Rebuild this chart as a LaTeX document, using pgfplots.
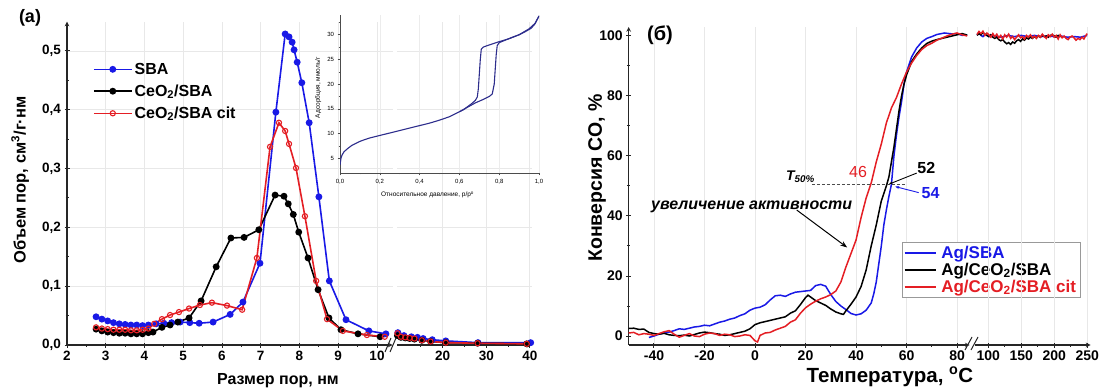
\documentclass[border=0pt]{standalone}
\usepackage{fontspec}
\setmainfont{Liberation Sans}
\usepackage{pgfplots}
\pgfplotsset{compat=1.18}
\usetikzlibrary{arrows.meta}
\definecolor{cblue}{RGB}{25,25,230}
\definecolor{cred}{RGB}{228,30,36}
\definecolor{cnavy}{RGB}{45,45,140}
\newcommand{\fs}[1]{\fontsize{#1}{#1}\selectfont}
\begin{document}
\begin{tikzpicture}[x=1pt,y=1pt]
\pgfplotsset{
 base/.style={scale only axis, clip=false, enlargelimits=false,
   axis line style={-, line width=1.1pt, black!85},
   tick align=outside, major tick length=5pt, minor tick length=3pt,
   tick style={line width=1pt, black!85},
   major grid style={gray!18, line width=0.7pt},
   tick label style={font=\fs{13.5}\bfseries},
 },
}
% ---------------- left panel, segment 2..10.4
\begin{axis}[base, at={(67pt,43pt)}, anchor=south west, width=325.5pt, height=323.4pt,
  xmin=2, xmax=10.4, ymin=0, ymax=0.55,
  axis x line=bottom, axis y line=left,
  xtick={2,3,4,5,6,7,8,9,10}, xticklabels={2,3,4,5,6,7,8,9,10},
  minor xtick={2.5,3.5,4.5,5.5,6.5,7.5,8.5,9.5},
  ytick={0,0.1,0.2,0.3,0.4,0.5}, yticklabels={{0,0},{0,1},{0,2},{0,3},{0,4},{0,5}},
  minor ytick={0.05,0.15,0.25,0.35,0.45},
  grid=major,
  xlabel={Размер пор, нм},
  every axis x label/.style={at={(axis description cs:0.648,-0.111)}, anchor=center, font=\fs{16}\bfseries},
  ylabel={Объем пор, см\textsuperscript{3}/г·нм},
  every axis y label/.style={at={(axis description cs:-0.144,0.51)}, rotate=90, anchor=center, font=\fs{16.5}\bfseries},
  legend style={at={(0.07,0.885)}, anchor=north west, draw=none, fill=none, font=\fs{16}\bfseries, row sep=5pt},
  legend cell align=left,
  legend image code/.code={\draw[mark repeat=2,mark phase=2,#1] plot coordinates {(0pt,0pt)(19pt,0pt)(38pt,0pt)};},
]
\addplot[cblue, line width=1.6pt, mark=*, mark size=2.6pt] coordinates {
(2.75,0.048)(2.9,0.044)(3.05,0.041)(3.2,0.038)(3.35,0.036)(3.5,0.035)(3.65,0.034)(3.8,0.034)(3.95,0.033)(4.1,0.034)
(4.3,0.036)(4.5,0.037)(4.7,0.038)(4.92,0.039)(5.17,0.038)(5.41,0.037)(5.77,0.039)(6.21,0.052)(6.54,0.073)(6.98,0.139)
(7.39,0.396)(7.63,0.529)(7.73,0.524)(7.81,0.515)(7.86,0.502)(7.94,0.481)(8.06,0.446)(8.25,0.378)(8.5,0.252)(8.77,0.109)
(9.2,0.043)(9.79,0.024)(10.23,0.019)};
\addlegendentry{SBA}
\addplot[black, line width=1.6pt, mark=*, mark size=2.6pt] coordinates {
(2.75,0.027)(2.9,0.024)(3.05,0.022)(3.2,0.021)(3.35,0.020)(3.5,0.020)(3.65,0.019)(3.8,0.019)(3.95,0.019)(4.1,0.021)
(4.22,0.022)(4.45,0.030)(4.66,0.034)(4.86,0.039)(5.15,0.046)(5.46,0.075)(5.85,0.133)(6.23,0.182)(6.57,0.183)(6.95,0.196)
(7.37,0.255)(7.6,0.253)(7.71,0.240)(7.84,0.222)(7.98,0.192)(8.22,0.148)(8.48,0.094)(8.76,0.046)(9.07,0.026)(9.51,0.019)(10.08,0.014)};
\addlegendentry{CeO\textsubscript{2}/SBA}
\addplot[cred, line width=1.6pt, mark=o, mark size=2.6pt, mark options={fill=white, line width=1.1pt}] coordinates {
(2.75,0.030)(2.9,0.028)(3.05,0.027)(3.2,0.026)(3.35,0.026)(3.5,0.026)(3.65,0.025)(3.8,0.025)(3.95,0.026)(4.1,0.028)
(4.25,0.036)(4.45,0.044)(4.66,0.051)(4.89,0.056)(5.15,0.062)(5.43,0.068)(5.74,0.072)(6.13,0.067)(6.52,0.060)(6.9,0.148)
(7.24,0.337)(7.47,0.378)(7.63,0.364)(7.73,0.342)(7.91,0.301)(8.14,0.219)(8.43,0.109)(8.71,0.044)(9.12,0.024)(9.74,0.017)(10.2,0.014)};
\addlegendentry{CeO\textsubscript{2}/SBA cit}
\end{axis}
% ---------------- left panel, segment after break
\begin{axis}[base, at={(397pt,43pt)}, anchor=south west, width=135pt, height=323.4pt,
  xmin=9.5, xmax=40.5, ymin=0, ymax=0.55,
  axis x line=bottom, axis y line=left, y axis line style={draw=none},
  ytick={0.1,0.2,0.3,0.4,0.5}, yticklabels={}, ytick style={draw=none},
  xtick={20,30,40}, xticklabels={20,30,40}, minor xtick={15,25,35},
  grid=major]
\addplot[cblue, line width=1.6pt, mark=*, mark size=2.6pt] coordinates {
(9.7,0.021)(11.1,0.016)(12.8,0.014)(14.2,0.013)(15.5,0.011)(17.6,0.009)(20.7,0.007)(28.1,0.004)(40.2,0.004)};
\addplot[black, line width=1.6pt, mark=*, mark size=2.6pt] coordinates {
(9.6,0.016)(10.4,0.013)(11.4,0.012)(12.4,0.011)(13.5,0.010)(15.2,0.008)(17.2,0.006)(20.7,0.004)(28,0.003)(39.3,0.002)};
\addplot[cred, line width=1.6pt, mark=o, mark size=2.6pt, mark options={fill=white, line width=1.1pt}] coordinates {
(9.6,0.020)(10.4,0.014)(11.4,0.013)(12.4,0.012)(13.5,0.011)(15.2,0.008)(17.2,0.006)(20.7,0.004)(28,0.003)(39.3,0.002)};
\end{axis}
\draw[line width=1pt, black!85] (385,36)--(391,50) (390,36)--(396,50);
% ---------------- inset
\begin{axis}[at={(340pt,215pt)}, anchor=south west, scale only axis, width=199pt, height=158pt,
  xmin=0, xmax=1, ymin=2, ymax=34, enlargelimits=false,
  axis x line=bottom, axis y line=left, axis line style={-, line width=0.6pt, black!70},
  tick align=outside, major tick length=2.5pt, minor tick length=1.5pt,
  tick style={line width=0.5pt, black!70}, tick label style={font=\fs{6}},
  xtick={0,0.2,0.4,0.6,0.8,1}, xticklabels={{0,0},{0,2},{0,4},{0,6},{0,8},{1,0}},
  minor xtick={0.1,0.3,0.5,0.7,0.9},
  ytick={5,10,15,20,25,30}, yticklabels={5,10,15,20,25,30}, minor ytick={7.5,12.5,17.5,22.5,27.5,32.5},
  xmajorgrids, major grid style={gray!15, line width=0.5pt},
  xlabel={Относительное давление, p/p\textsuperscript{o}},
  every axis x label/.style={at={(axis description cs:0.44,-0.14)}, anchor=center, font=\fs{6.5}},
  ylabel={Адсорбция, ммоль/г},
  every axis y label/.style={at={(axis description cs:-0.11,0.54)}, rotate=90, anchor=center, font=\fs{6.5}},
]
\addplot[cnavy, line width=1.1pt] coordinates {
(0.000,3.6)(0.005,5.0)(0.01,5.6)(0.02,6.3)(0.04,7.0)(0.06,7.6)(0.08,8.0)(0.10,8.4)(0.12,8.7)(0.15,9.1)
(0.20,9.6)(0.25,10.1)(0.30,10.6)(0.35,11.1)(0.40,11.6)(0.45,12.1)(0.50,12.7)(0.55,13.4)(0.60,14.4)(0.64,15.3)
(0.68,16.2)(0.72,16.9)(0.75,17.5)(0.765,18.0)(0.775,20)(0.78,23)(0.785,26)(0.79,27.8)(0.80,28.4)(0.83,28.9)
(0.86,29.4)(0.90,30.0)(0.93,30.6)(0.96,31.3)(0.98,32.2)(0.99,33.0)(1.00,33.8)};
\addplot[cnavy, line width=1.1pt] coordinates {
(1.00,33.8)(0.98,32.3)(0.95,31.2)(0.90,30.0)(0.85,29.2)(0.80,28.6)(0.77,28.2)(0.74,27.8)(0.72,27.5)(0.71,27.1)
(0.705,25)(0.70,22)(0.695,19)(0.69,17.4)(0.68,16.7)(0.66,16.0)(0.64,15.4)(0.62,14.8)(0.60,14.4)};
\end{axis}
% ---------------- right panel, -50..85
\begin{axis}[base, at={(628.7pt,43pt)}, anchor=south west, width=341pt, height=318pt,
  xmin=-50, xmax=85, ymin=-3, ymax=103,
  axis x line=bottom, axis y line=left,
  xtick={-40,-20,0,20,40,60,80}, xticklabels={-40,-20,0,20,40,60,80},
  minor xtick={-30,-10,10,30,50,70},
  ytick={0,20,40,60,80,100}, yticklabels={0,20,40,60,80,100}, minor ytick={10,30,50,70,90},
  xmajorgrids,
  tick label style={font=\fs{14}\bfseries},
  xlabel={Температура, \textsuperscript{o}C},
  every axis x label/.style={at={(axis description cs:0.766,-0.1)}, anchor=center, font=\fs{20.5}\bfseries},
  ylabel={Конверсия CO, \%},
  every axis y label/.style={at={(axis description cs:-0.093,0.525)}, rotate=90, anchor=center, font=\fs{19.5}\bfseries},
  legend style={at={(0.80,0.324)}, anchor=north west, draw=gray!80, fill=white, font=\fs{17}\bfseries, inner sep=2pt, row sep=-1pt, column sep=3pt},
  legend cell align=left,
  legend image code/.code={\draw[#1, line width=1.6pt] (0pt,0pt)--(31pt,0pt);},
]
\addplot[cblue, line width=1.5pt] coordinates {
(-42,-0.5)(-40,0.0)(-38,0.6)(-36,1.0)(-34,1.3)(-32,1.8)(-30,2.4)(-28,2.2)(-26,2.6)(-24,3.0)(-22,3.2)(-20,3.6)
(-18,3.4)(-16,4.0)(-14,4.6)(-12,5.0)(-10,5.6)(-8,6.0)(-6,6.8)(-4,7.4)(-2,8.6)(0,9.3)(2,9.6)(4,10.4)(6,12.0)
(8,13.4)(10,13.6)(12,13.2)(14,14.0)(16,14.6)(18,14.8)(20,15.0)(22,15.2)(24,16.8)(26,17.2)(28,16.6)(30,13.8)
(32,11.5)(34,10.0)(36,8.8)(38,7.5)(40,7.0)(42,7.4)(44,8.6)(46,11.0)(47,14)(48,18)(49,24)(50,30)(51,37)(52,42)
(53,46.5)(54,50.5)(55,60)(56,67)(57,73)(58,78)(59,84)(60,88)(62,93)(64,96)(66,98)(68,99.2)(70,99.8)(72,100.5)
(75,101)(78,100.7)(80,100.8)(82,100.2)(84,100.4)};
\addlegendentry{\textcolor{cblue}{Ag/SBA}}
\addplot[black, line width=1.5pt] coordinates {
(-50,2.5)(-48,2.6)(-46,2.2)(-44,2.3)(-42,1.2)(-40,0.8)(-38,0.6)(-36,0.9)(-34,0.4)(-32,0.2)(-30,0.1)(-28,0.3)
(-26,0.0)(-24,0.5)(-22,1.0)(-20,1.3)(-18,1.1)(-16,0.8)(-14,0.6)(-12,0.2)(-10,0.4)(-8,0.8)(-6,1.2)(-4,1.6)
(-2,2.4)(0,3.8)(2,4.4)(4,4.8)(6,5.2)(8,5.6)(10,6.0)(12,6.4)(14,7.6)(16,8.4)(18,10.5)(20,12.8)(21,13.6)(22,13.0)
(24,11.8)(26,11.0)(28,10.2)(30,9.0)(32,8.0)(34,7.4)(35,7.2)(36,8.4)(38,10.6)(40,13)(42,16.5)(44,22)(46,30)
(48,37)(50,45)(51,47.5)(52,50)(53,53)(54,58)(55,63)(56,69)(57,75)(58,80)(59,84)(60,87)(62,91.5)(64,94)(66,96)
(68,97.5)(70,98.3)(72,98.8)(75,99.4)(78,100)(80,100.4)(82,100.8)(84,100.3)};
\addlegendentry{Ag/CeO\textsubscript{2}/SBA}
\addplot[cred, line width=1.5pt] coordinates {
(-50,1.0)(-48,1.2)(-46,0.4)(-44,0.8)(-42,0.6)(-40,0.2)(-38,0.8)(-36,1.4)(-34,1.8)(-32,0.6)(-30,-0.4)(-28,0.2)
(-26,0.8)(-24,0.0)(-22,-0.2)(-20,0.6)(-18,1.0)(-16,0.8)(-14,0.2)(-12,0.6)(-10,0.4)(-8,-0.2)(-6,0.0)(-4,0.4)
(-2,0.2)(0,-1.6)(1,-2.0)(2,0.2)(4,1.0)(6,1.2)(8,2.0)(10,2.6)(12,3.2)(14,4.6)(16,5.4)(18,7.6)(20,9.4)(22,10.6)
(24,11.6)(26,12.4)(28,13.0)(30,13.8)(32,15.0)(34,18)(36,23)(38,27.5)(40,32)(42,39.5)(44,46)(45,48.5)(46,51)
(48,58)(50,64)(52,71)(54,76)(56,79.5)(58,84)(60,88)(62,91)(64,93.5)(66,95.5)(68,96.8)(70,97.6)(72,98.6)
(74,99.3)(76,100)(78,100.6)(80,101)(82,100.4)(84,100)};
\addlegendentry{\textcolor{cred}{Ag/CeO\textsubscript{2}/SBA cit}}
\node[font=\fs{14}\bfseries\itshape] at (axis cs:18,53) {T\textsubscript{50\%}};
\draw[densely dashed, black!70, line width=0.6pt] (axis cs:22.5,50.5) -- (axis cs:59.5,50.5);
\node[text=cred, font=\fs{16}] at (axis cs:40.8,54.7) {46};
\node[font=\fs{16}\bfseries] at (axis cs:67.8,56) {52};
\draw[-{Stealth[length=4pt]}, line width=0.9pt] (axis cs:64,54.3) -- (axis cs:53,50.6);
\node[text=cblue, font=\fs{16}\bfseries] at (axis cs:69.5,47.5) {54};
\draw[cblue, -{Stealth[length=4pt]}, line width=0.9pt] (axis cs:64.8,47.8) -- (axis cs:55.5,49.8);
\node[font=\fs{16}\bfseries\itshape, anchor=west] at (axis cs:-42.5,43) {увеличение активности};
\draw[-{Stealth[length=7pt,width=5pt]}, line width=1pt] (axis cs:16.5,42) -- (axis cs:36.5,29.5);
\end{axis}
% ---------------- right panel, after break
\begin{axis}[base, at={(975pt,43pt)}, anchor=south west, width=115.5pt, height=318pt,
  xmin=80, xmax=255, ymin=-3, ymax=103,
  axis x line=bottom, axis y line=left, y axis line style={draw=none}, ytick=\empty,
  xtick={100,150,200,250}, xticklabels={100,150,200,250}, minor xtick={125,175,225},
  xmajorgrids,
  tick label style={font=\fs{14}\bfseries}]
\addplot[cblue, line width=1.5pt] coordinates {
(83,100.4)(86,101.0)(89,100.2)(92,99.8)(95,100.6)(98,100.2)(101,99.8)(104,100.4)(110,100.0)(120,99.6)(130,100.2)
(140,99.8)(150,100.2)(160,99.8)(170,100.2)(180,99.8)(190,100.0)(200,99.8)(210,100.0)(220,99.6)(230,99.8)(240,99.6)(250,100.2)};
\addplot[black, line width=1.5pt] coordinates {
(83,100.2)(86,100.8)(89,100.4)(92,101.2)(95,100.6)(98,100.2)(101,99.8)(104,100.4)(107,99.6)(110,99.2)(113,99.6)
(116,98.8)(119,98.4)(122,98.8)(125,98.0)(128,97.4)(131,97.8)(134,97.2)(137,98.0)(140,97.6)(143,98.4)(146,98.8)
(149,98.2)(152,99.0)(155,98.6)(158,99.4)(161,99.0)(164,99.6)(167,99.2)(170,99.8)(173,99.4)(176,100.0)(179,99.6)
(182,100.2)(185,99.8)(188,100.0)(191,99.6)(194,100.2)(197,100.4)(200,100.0)(203,99.6)(206,100.2)(210,99.8)};
\addplot[cred, line width=1.5pt] coordinates {
(83,100.5)(86,101.5)(89,100.8)(92,101.6)(95,100.2)(98,101.0)(101,100.4)(104,99.6)(107,100.8)(110,99.8)(113,100.6)
(116,99.4)(119,100.2)(122,99.0)(125,100.4)(128,99.6)(131,100.6)(134,99.2)(137,99.8)(140,98.8)(143,99.6)(146,100.4)
(149,99.4)(152,99.8)(155,99.0)(158,100.2)(161,99.6)(164,100.4)(167,99.4)(170,100.0)(173,99.2)(176,100.2)(179,99.6)
(182,100.6)(185,99.8)(188,99.2)(191,100.4)(194,99.8)(197,100.6)(200,99.6)(203,100.2)(206,99.0)(209,100.4)(212,99.4)
(215,100.0)(218,99.2)(221,98.8)(224,99.6)(227,100.0)(230,99.4)(233,98.6)(236,99.2)(239,98.8)(242,99.6)(245,99.0)
(248,100.2)(250,100.8)};
\end{axis}
\draw[line width=1pt, black!85] (965,38)--(972,51) (971,38)--(978,51);
\node[font=\fs{18}\bfseries] at (30,370) {(a)};
\node[font=\fs{20}\bfseries] at (660,353) {(б)};
\pgfresetboundingbox
\path[use as bounding box] (0,0) rectangle (1099,388);
\end{tikzpicture}
\end{document}
